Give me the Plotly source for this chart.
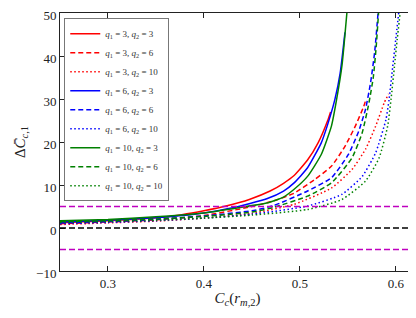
import plotly.graph_objects as go

# ---- data ----
q1_vals = [3, 3, 3, 6, 6, 6, 10, 10, 10]
q2_vals = [3, 6, 10, 3, 6, 10, 3, 6, 10]

x_3_3 = [0.25, 0.30, 0.35, 0.377, 0.40, 0.423, 0.448, 0.469, 0.483, 0.494, 0.508, 0.519, 0.529, 0.532]
y_3_3 = [1.2, 1.7, 2.4, 3.1, 4.0, 5.1, 6.7, 8.6, 10.4, 12.2, 15.8, 19.8, 25.0, 27.0]

x_3_6 = [0.25, 0.30, 0.35, 0.40, 0.448, 0.4727, 0.494, 0.515, 0.533, 0.547, 0.5578, 0.5666, 0.569]
y_3_6 = [1.0, 1.4, 1.9, 2.9, 4.9, 6.3, 8.1, 11.2, 14.4, 19.0, 23.7, 28.3, 30.0]

x_3_10 = [0.25, 0.30, 0.35, 0.40, 0.45, 0.494, 0.533, 0.5543, 0.5684, 0.579, 0.5879, 0.5925]
y_3_10 = [0.8, 1.2, 1.6, 2.3, 3.4, 5.5, 9.3, 13.6, 18.3, 23.7, 29.1, 31.2]

x_6_3 = [0.25, 0.30, 0.35, 0.377, 0.40, 0.43, 0.4655, 0.483, 0.494, 0.508, 0.5223, 0.529, 0.5365, 0.542, 0.547]
y_6_3 = [1.4, 1.8, 2.4, 2.9, 3.5, 4.7, 6.8, 8.6, 10.5, 14.0, 19.8, 24.1, 29.9, 36.0, 45.5]

x_6_6 = [0.25, 0.30, 0.35, 0.40, 0.45, 0.4727, 0.508, 0.533, 0.5506, 0.5613, 0.5684, 0.5737, 0.578, 0.5815]
y_6_6 = [1.2, 1.5, 2.0, 2.8, 4.0, 5.2, 8.6, 11.7, 17.1, 22.5, 27.6, 33.8, 41.0, 50.0]

x_6_10 = [0.25, 0.30, 0.35, 0.40, 0.45, 0.508, 0.5436, 0.565, 0.579, 0.5897, 0.593, 0.5968, 0.600, 0.603]
y_6_10 = [1.0, 1.3, 1.7, 2.3, 3.2, 5.1, 7.8, 12.0, 17.5, 25.2, 29.9, 37.6, 44.0, 50.0]

x_10_3 = [0.25, 0.30, 0.35, 0.377, 0.40, 0.43, 0.4655, 0.483, 0.494, 0.508, 0.5223, 0.5329, 0.5383, 0.544, 0.549]
y_10_3 = [1.7, 2.0, 2.6, 3.0, 3.5, 4.5, 5.8, 7.2, 9.0, 12.0, 17.1, 23.7, 29.9, 38.0, 50.0]

x_10_6 = [0.25, 0.30, 0.35, 0.40, 0.45, 0.4727, 0.508, 0.533, 0.5543, 0.5649, 0.572, 0.5765, 0.5795, 0.582]
y_10_6 = [1.5, 1.7, 2.1, 2.7, 3.7, 4.8, 7.4, 10.5, 16.3, 22.1, 29.1, 35.0, 42.0, 50.0]

x_10_10 = [0.25, 0.30, 0.35, 0.40, 0.45, 0.508, 0.5436, 0.5684, 0.5826, 0.5915, 0.595, 0.5986, 0.6015, 0.6045]
y_10_10 = [1.3, 1.5, 1.8, 2.3, 3.0, 4.3, 6.6, 10.9, 16.3, 23.7, 29.9, 37.6, 44.0, 50.0]

hline_magenta = [5, -5]
hline_black = [0]

x_ticks = [0.3, 0.4, 0.5, 0.6]
y_ticks = [-10, 0, 10, 20, 30, 40, 50]
x_range = [0.25, 0.62]
y_range = [-10, 50]

series_x = [x_3_3, x_3_6, x_3_10, x_6_3, x_6_6, x_6_10, x_10_3, x_10_6, x_10_10]
series_y = [y_3_3, y_3_6, y_3_10, y_6_3, y_6_6, y_6_10, y_10_3, y_10_6, y_10_10]

colors = {3: "#ff0000", 6: "#0000ff", 10: "#008000"}
dashes = {3: "solid", 6: "5px,3px", 10: "1.5px,2.5px"}

SERIF = "Liberation Serif, DejaVu Serif, serif"

fig = go.Figure()

for xv, yv, q1, q2 in zip(series_x, series_y, q1_vals, q2_vals):
    name = f"<i>q</i><sub>1</sub> = {q1}, <i>q</i><sub>2</sub> = {q2}"
    fig.add_trace(go.Scatter(
        x=xv, y=yv, mode="lines", name=name,
        line=dict(color=colors[q1], dash=dashes[q2], width=1.5, shape="spline", smoothing=0.5),
    ))

for h in hline_magenta:
    fig.add_hline(y=h, line=dict(color="#bf00bf", dash="6px,3px", width=1.5))
for h in hline_black:
    fig.add_hline(y=h, line=dict(color="black", dash="6px,3px", width=1.5))

axis_common = dict(
    showgrid=False, zeroline=False, showline=True, linecolor="#222", linewidth=1,
    mirror="ticks", ticks="inside", ticklen=5, tickcolor="#222", automargin=False,
    ticklabeloverflow="allow",
    tickfont=dict(family=SERIF, size=13, color="#222"),
)

fig.update_xaxes(range=x_range, tickvals=x_ticks, ticktext=[f"{t:.1f}" for t in x_ticks],
                 title=dict(text="<i>C</i><sub><i>c</i></sub>(<i>r</i><sub><i>m</i>,2</sub>)",
                            font=dict(family=SERIF, size=15, color="#222"), standoff=2),
                 **axis_common)
fig.update_yaxes(range=y_range, tickvals=y_ticks, ticklabelshift=2,
                 ticktext=["\u221210" if t < 0 else str(t) for t in y_ticks],
                 title=dict(text="\u0394<i>C\u0304</i><sub><i>c</i>,1</sub>",
                            font=dict(family=SERIF, size=15, color="#222"), standoff=6),
                 **axis_common)

fig.update_layout(
    width=416, height=318,
    margin=dict(l=52, r=9, t=5, b=55),
    paper_bgcolor="white", plot_bgcolor="white",
    showlegend=True,
    legend=dict(x=0.012, y=0.98, xanchor="left", yanchor="top",
                bgcolor="rgba(255,255,255,0.9)", bordercolor="#777", borderwidth=1,
                font=dict(family=SERIF, size=9, color="#333"),
                tracegroupgap=0, itemwidth=30),
)

fig.write_html("out.html")
